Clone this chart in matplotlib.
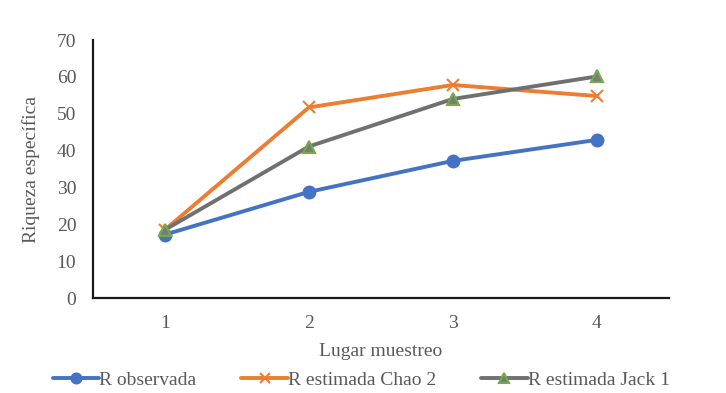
import matplotlib.pyplot as plt

# data
lugares = [1, 2, 3, 4]
r_observada = [17.2, 28.8, 37.2, 42.9]
r_chao2 = [18.5, 51.7, 57.8, 54.8]
r_jack1 = [18.5, 41.1, 54.0, 60.1]

plt.rcParams['font.family'] = ['Liberation Serif', 'DejaVu Serif']
txt = '#595959'

fig = plt.figure(figsize=(7.26, 3.93), dpi=100)
ax = fig.add_axes([0.128, 0.2417, 0.793, 0.6565])

ax.plot(lugares, r_observada, color='#4472C4', lw=2.8, marker='o', ms=9,
        label='R observada', solid_capstyle='round')
ax.plot(lugares, r_chao2, color='#ED7D31', lw=2.8, marker='x', ms=9, mew=1.5,
        label='R estimada Chao 2', solid_capstyle='round')
ax.plot(lugares, r_jack1, color='#707070', lw=2.8, marker='^', ms=8,
        mfc='#7a7a7a', mec='#70AD47', mew=1.5,
        label='R estimada Jack 1', solid_capstyle='round')

ax.set_xlim(0.5, 4.5)
ax.set_ylim(0, 70)
ax.set_xticks(lugares)
ax.set_yticks(range(0, 71, 10))
ax.tick_params(length=0, labelsize=14, labelcolor=txt, pad=12)
for s in ['top', 'right']:
    ax.spines[s].set_visible(False)
for s in ['left', 'bottom']:
    ax.spines[s].set_color('#1a1a1a')
    ax.spines[s].set_linewidth(1.6)

ax.set_xlabel('Lugar muestreo', fontsize=14, color=txt, labelpad=8)
ax.set_ylabel('Riqueza específica', fontsize=14, color=txt, labelpad=12)

leg = ax.legend(loc='lower center', bbox_to_anchor=(0.466, -0.42), ncol=3,
                frameon=False, fontsize=14, handlelength=2.4, handletextpad=0.0,
                columnspacing=2.3, labelcolor=txt, markerscale=0.85)

fig.savefig('out.png', dpi=100)
